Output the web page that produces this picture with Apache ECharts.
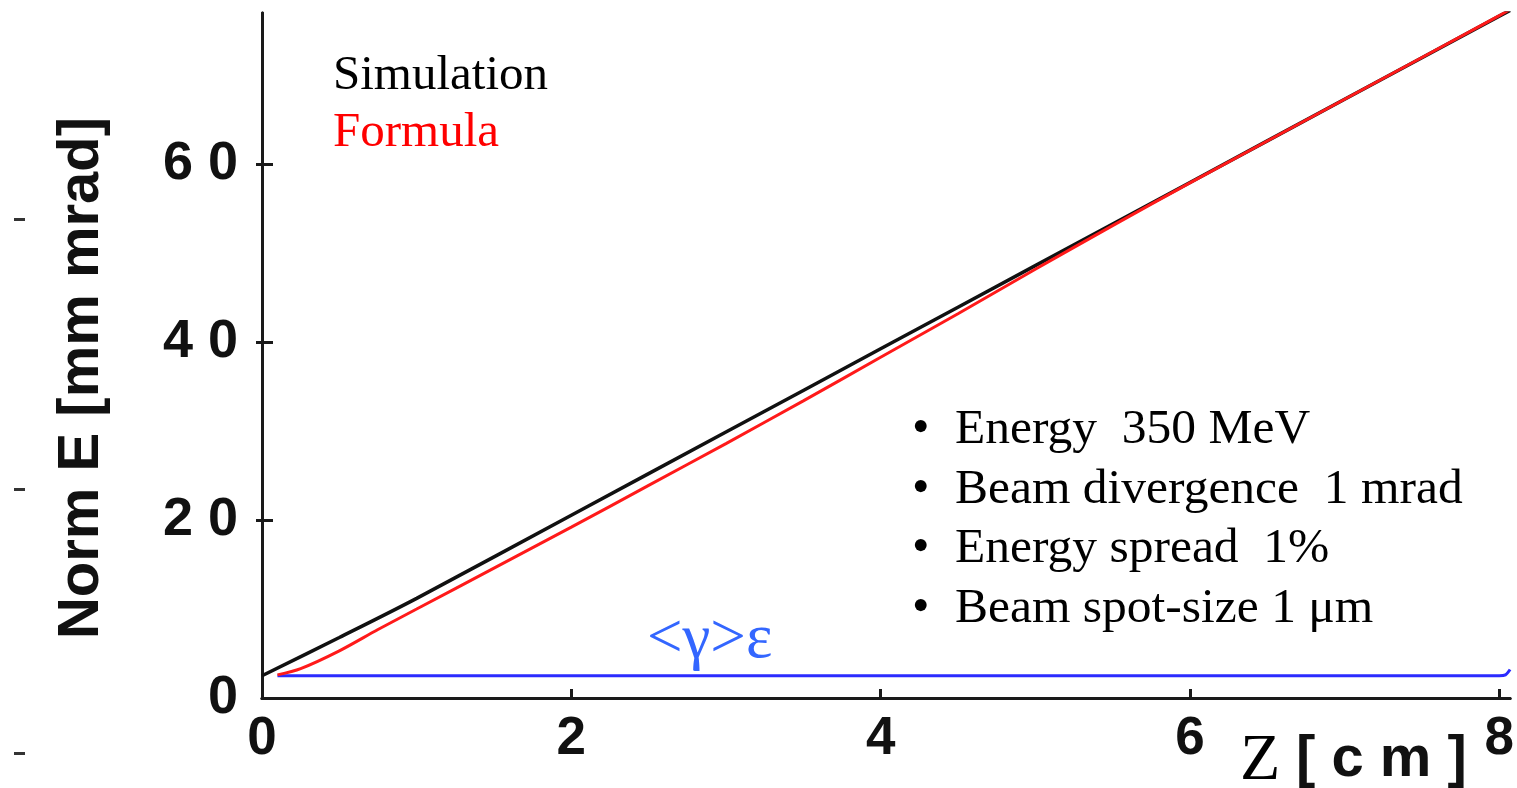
<!DOCTYPE html>
<html><head><meta charset="utf-8">
<script src="https://cdn.jsdelivr.net/npm/echarts@6/dist/echarts.min.js"></script>
<style>html,body{margin:0;padding:0;background:#fff}#c{width:1517px;height:788px}</style>
</head><body><div id="c"></div>
<script>
// Tick labels
const zTicks = [0, 2, 4, 6, 8];
const yTicks = [0, 20, 40, 60];
// Simulation (black)
const simZ = [0, 0.5, 1, 2, 3, 4, 5, 6, 7, 8, 8.07];
const simE = [2.5, 6.8, 11.2, 20.55, 29.9, 39.25, 48.6, 57.95, 67.3, 76.65, 77.3];
// Formula (red)
const formZ = [0.1, 0.25, 0.5, 0.75, 1, 1.5, 2, 2.5, 3, 3.5, 4, 4.5, 5, 5.5, 6, 7, 8, 8.06];
const formE = [2.6, 3.3, 5.3, 7.7, 10.0, 14.6, 19.2, 23.9, 28.6, 33.4, 38.3, 43.2, 48.2, 53.1, 57.9, 67.3, 76.7, 77.3];
// <gamma> epsilon (blue)
const gZ = [0.1, 1, 2, 3, 4, 5, 6, 7, 8, 8.04, 8.07];
const gE = [2.5, 2.5, 2.5, 2.5, 2.5, 2.5, 2.5, 2.5, 2.5, 2.6, 3.2];

const zip = (a, b) => a.map((v, i) => [v, b[i]]);
const chart = echarts.init(document.getElementById('c'));
const sans = '"Liberation Sans", Arial, sans-serif';
const serif = '"Liberation Serif", "Times New Roman", serif';
const axisLine = { show: true, lineStyle: { color: '#1a1a1a', width: 3 } };

chart.setOption({
  animation: false,
  backgroundColor: '#fff',
  grid: { left: 262, right: 1, top: 13, bottom: 90 },
  xAxis: [{
    type: 'value', min: 0, max: 8.07, position: 'bottom',
    axisLine: axisLine,
    axisTick: { show: true, inside: true, length: 9, lineStyle: { color: '#1a1a1a', width: 3 }, customValues: zTicks },
    axisLabel: { customValues: zTicks, margin: 15, fontSize: 53, fontWeight: 'bold', fontFamily: sans, color: '#111' },
    splitLine: { show: false }
  }, {
    type: 'value', min: 0, max: 8.07, position: 'top',
    axisLine: axisLine, axisTick: { show: false }, axisLabel: { show: false }, splitLine: { show: false }
  }],
  yAxis: [{
    type: 'value', min: 0, max: 77, position: 'left',
    axisLine: axisLine,
    axisTick: { show: true, inside: true, length: 11, lineStyle: { color: '#1a1a1a', width: 3 }, customValues: [20, 40, 60] },
    axisLabel: { customValues: yTicks, margin: 24, fontSize: 54, fontWeight: 'bold', fontFamily: sans, color: '#111',
      formatter: v => String(v).split('').join(' ') },
    splitLine: { show: false }
  }, {
    type: 'value', min: 0, max: 77, position: 'right',
    axisLine: axisLine,
    axisTick: { show: true, inside: true, length: 6, lineStyle: { color: '#1a1a1a', width: 3 }, customValues: [20, 40, 60] },
    axisLabel: { show: false }, splitLine: { show: false }
  }],
  series: [
    { type: 'line', name: 'Simulation', data: zip(simZ, simE), showSymbol: false, smooth: 0.3,
      lineStyle: { color: '#111', width: 3.5 }, z: 3 },
    { type: 'line', name: 'Formula', data: zip(formZ, formE), showSymbol: false, smooth: 0.3,
      lineStyle: { color: '#ff1a1a', width: 3 }, z: 4 },
    { type: 'line', name: 'gamma', data: zip(gZ, gE), showSymbol: false, smooth: 0.3,
      lineStyle: { color: '#2b2bff', width: 3 }, z: 2 }
  ],
  graphic: [
    { type: 'text', x: 82, y: 378, rotation: Math.PI / 2, style: { text: 'Norm E [mm mrad]', font: 'bold 58px ' + sans, fill: '#111', align: 'center', verticalAlign: 'middle' } },
    { type: 'text', x: 333, y: 76, style: { text: 'Simulation', font: '49px ' + serif, fill: '#000', verticalAlign: 'middle' } },
    { type: 'text', x: 333, y: 133, style: { text: 'Formula', font: '49px ' + serif, fill: '#ff0000', verticalAlign: 'middle' } },
    { type: 'text', x: 912, y: 430, style: { text: '•', font: '50px ' + serif, fill: '#000', verticalAlign: 'middle' } },
    { type: 'text', x: 955, y: 430, style: { text: 'Energy  350 MeV', font: '49.5px ' + serif, fill: '#000', verticalAlign: 'middle' } },
    { type: 'text', x: 912, y: 490, style: { text: '•', font: '50px ' + serif, fill: '#000', verticalAlign: 'middle' } },
    { type: 'text', x: 955, y: 490, style: { text: 'Beam divergence  1 mrad', font: '49.5px ' + serif, fill: '#000', verticalAlign: 'middle' } },
    { type: 'text', x: 912, y: 549, style: { text: '•', font: '50px ' + serif, fill: '#000', verticalAlign: 'middle' } },
    { type: 'text', x: 955, y: 549, style: { text: 'Energy spread  1%', font: '49.5px ' + serif, fill: '#000', verticalAlign: 'middle' } },
    { type: 'text', x: 912, y: 609, style: { text: '•', font: '50px ' + serif, fill: '#000', verticalAlign: 'middle' } },
    { type: 'text', x: 955, y: 609, style: { text: 'Beam spot-size 1 μm', font: '49.5px ' + serif, fill: '#000', verticalAlign: 'middle' } },
    { type: 'text', x: 647, y: 640, style: { text: '<γ>ε', font: '63px ' + serif, fill: '#3366ff', verticalAlign: 'middle' } },
    { type: 'text', x: 1240, y: 762, style: { text: 'Z', font: '66px ' + serif, fill: '#000', verticalAlign: 'middle' } },
    { type: 'text', x: 1296, y: 760, style: { text: '[ c m ]', font: 'bold 58px ' + sans, fill: '#111', verticalAlign: 'middle' } },
    { type: 'rect', shape: { x: 14, y: 218, width: 11, height: 3 }, style: { fill: '#333' } },
    { type: 'rect', shape: { x: 14, y: 488, width: 11, height: 3 }, style: { fill: '#333' } },
    { type: 'rect', shape: { x: 14, y: 752, width: 11, height: 3 }, style: { fill: '#333' } }
  ]
});
</script></body></html>
